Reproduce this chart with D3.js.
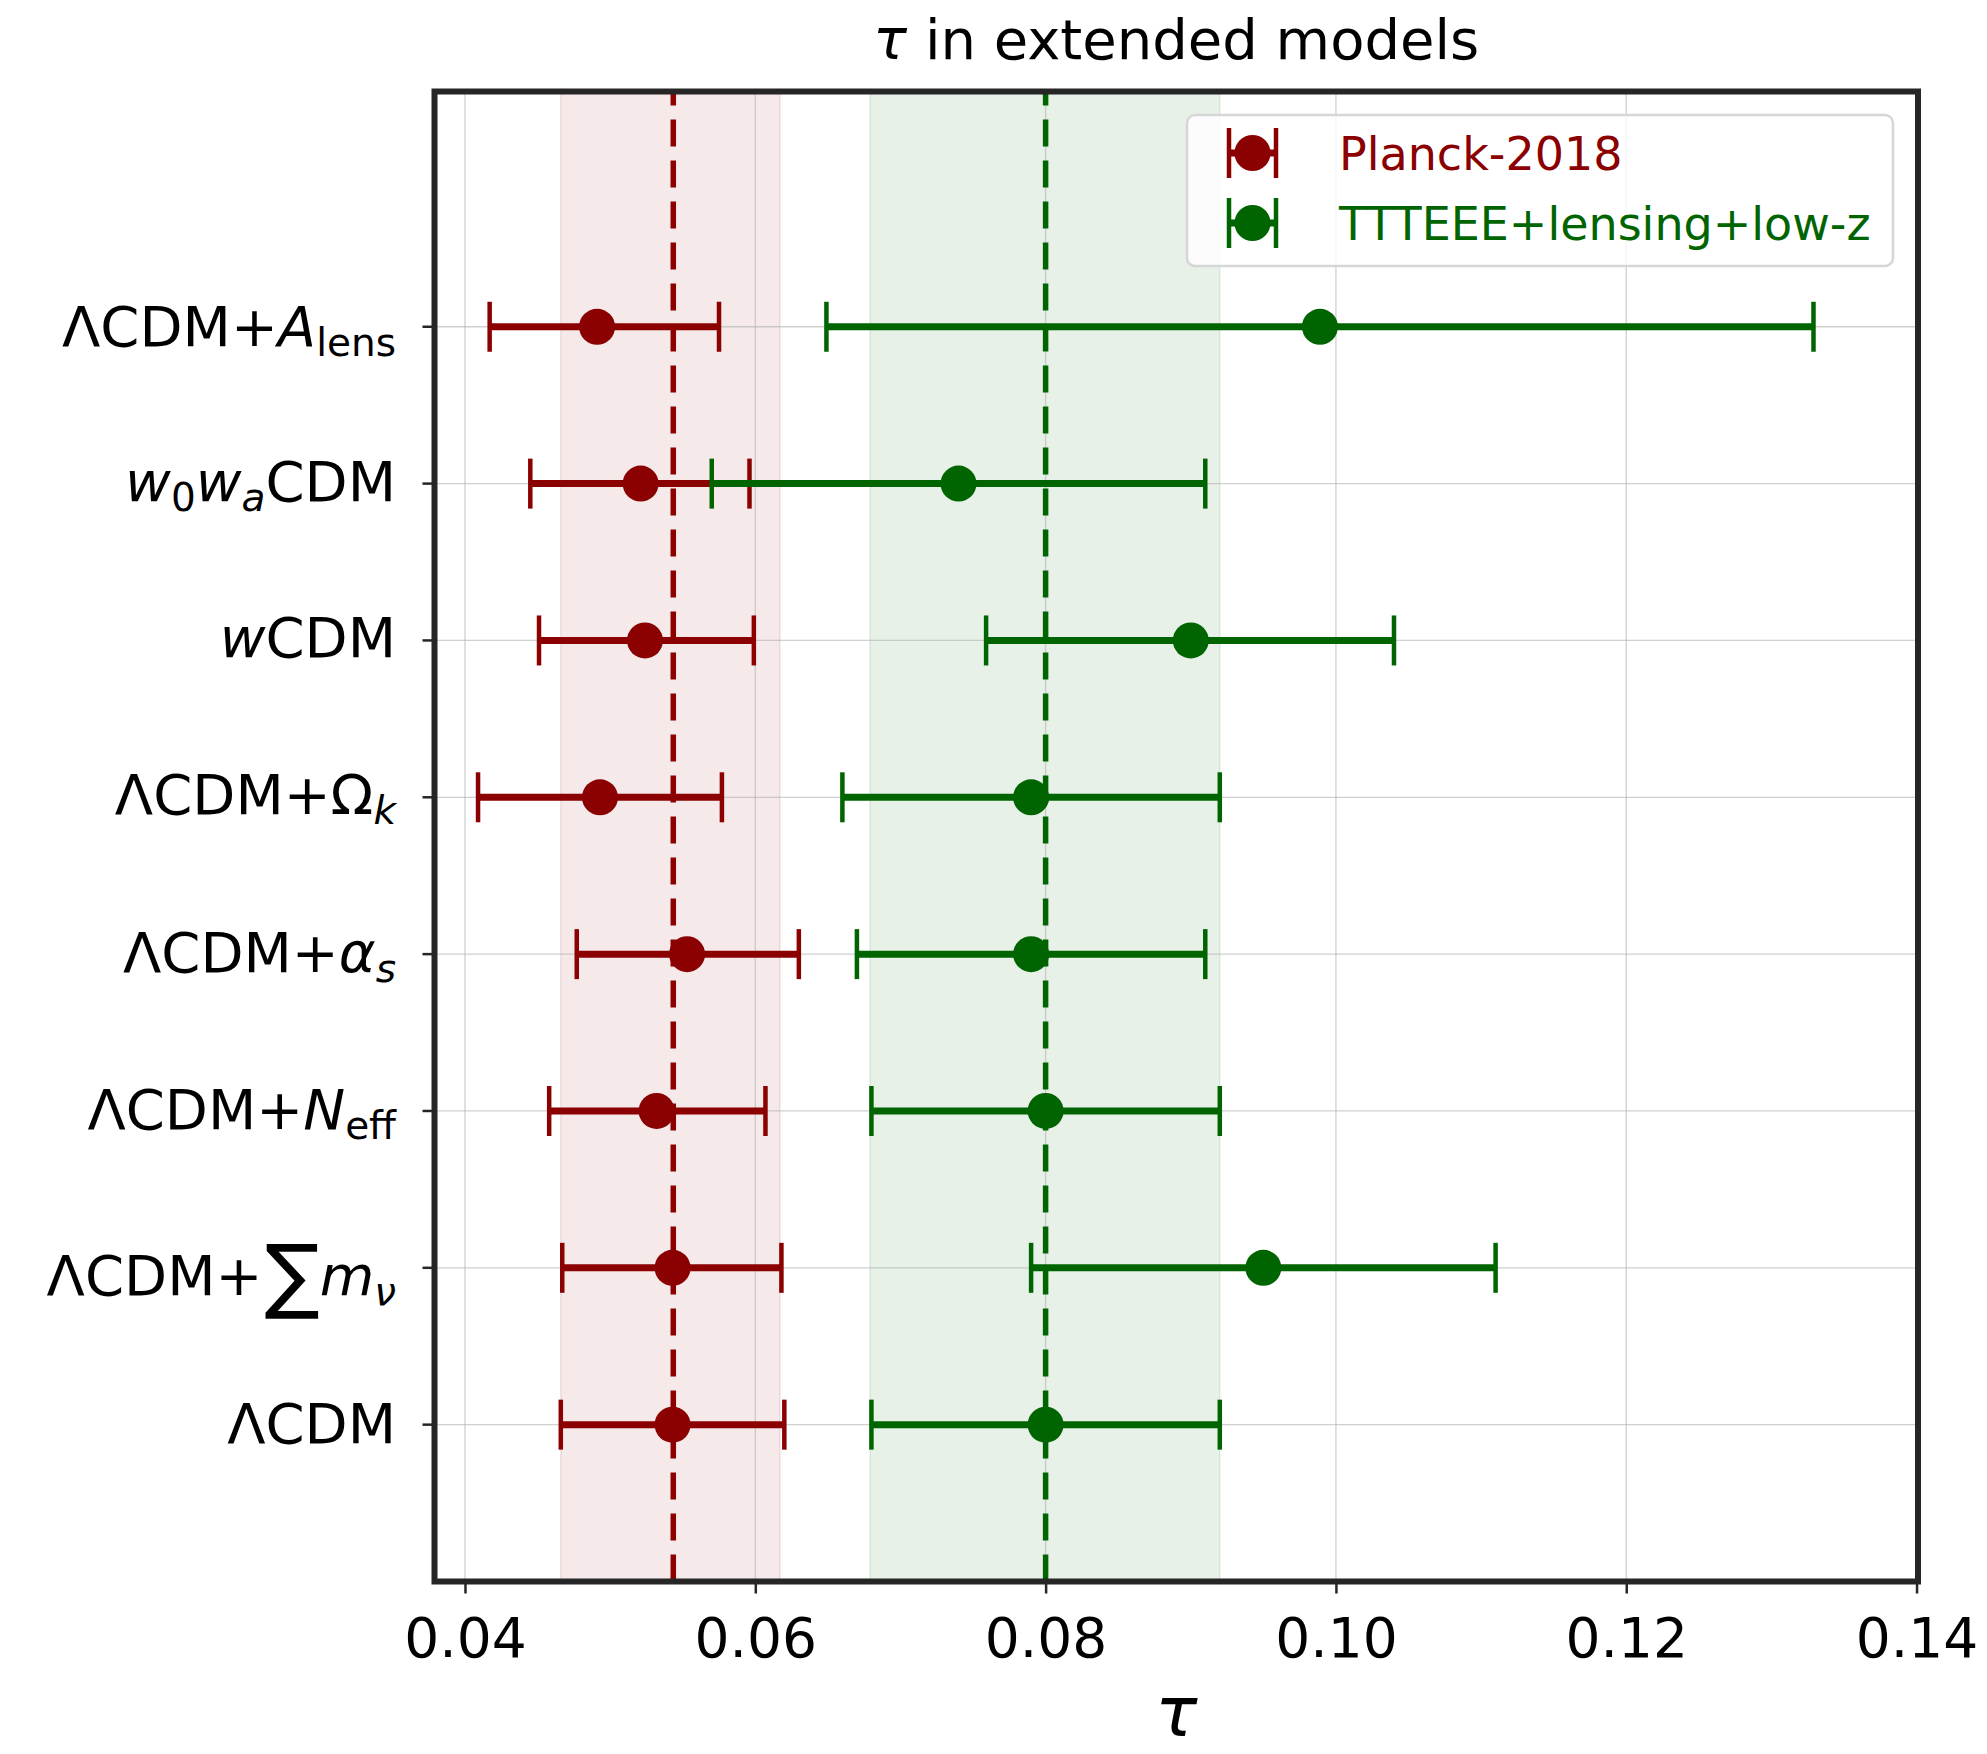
<!DOCTYPE html>
<html>
<head>
<meta charset="utf-8">
<script src="https://cdn.jsdelivr.net/npm/d3@7"></script>
<style>
  body { margin: 0; background: #ffffff; }
  text { font-family: "DejaVu Sans", sans-serif; }
</style>
</head>
<body>
<div id="chart"></div>
<script>
// data, rows listed from top to bottom
var models = ["LCDM+Alens", "w0waCDM", "wCDM", "LCDM+Omk", "LCDM+alphas", "LCDM+Neff", "LCDM+mnu", "LCDM"];
// label pieces: [text, style] style: r roman, i italic, sr roman sub, si italic sub, big sigma
var modelLabels = [
    [["ΛCDM+", "r"], ["A", "i"], ["lens", "sr"]],
    [["w", "i"], ["0", "sr"], ["w", "i"], ["a", "si"], ["CDM", "r"]],
    [["w", "i"], ["CDM", "r"]],
    [["ΛCDM+Ω", "r"], ["k", "si"]],
    [["ΛCDM+", "r"], ["α", "i"], ["s", "si"]],
    [["ΛCDM+", "r"], ["N", "i"], ["eff", "sr"]],
    [["ΛCDM+", "r"], ["∑", "big"], ["m", "i"], ["ν", "si"]],
    [["ΛCDM", "r"]]
];

var planckMean = [0.0491, 0.0521, 0.0524, 0.0493, 0.0553, 0.0532, 0.0543, 0.0543];
var planckLow  = [0.0417, 0.0445, 0.0451, 0.0409, 0.0477, 0.0458, 0.0467, 0.0466];
var planckHigh = [0.0575, 0.0596, 0.0599, 0.0577, 0.0630, 0.0607, 0.0618, 0.0620];

var tttMean = [0.0989, 0.0740, 0.0900, 0.0790, 0.0790, 0.0800, 0.0950, 0.0800];
var tttLow  = [0.0649, 0.0570, 0.0759, 0.0660, 0.0670, 0.0680, 0.0790, 0.0680];
var tttHigh = [0.1329, 0.0910, 0.1040, 0.0920, 0.0910, 0.0920, 0.1110, 0.0920];

var planckBand = [0.0466, 0.0617];
var planckRef = 0.05435;
var tttBand = [0.0679, 0.0920];
var tttRef = 0.0800;

var xTicks = [0.04, 0.06, 0.08, 0.10, 0.12, 0.14];
var seriesNames = ["Planck-2018", "TTTEEE+lensing+low-z"];

var red = "#8b0000";
var green = "#006400";

var svgWidth = 1987;
var svgHeight = 1754;
var box = { left: 434.5, right: 1918, top: 91.5, bottom: 1581.5 };

var svg = d3.select("#chart")
    .append("svg")
    .attr("width", svgWidth)
    .attr("height", svgHeight);

var x = d3.scaleLinear()
    .domain([0.0379, 0.1401])
    .range([box.left, box.right]);

// row 0 at the bottom (LCDM), 7 at the top
var y = d3.scaleLinear()
    .domain([-1, 8.5])
    .range([box.bottom, box.top]);

function rowY(i) {
    return y(models.length - 1 - i);
}

// shaded bands
svg.append("rect")
    .attr("x", x(planckBand[0]))
    .attr("y", box.top)
    .attr("width", x(planckBand[1]) - x(planckBand[0]))
    .attr("height", box.bottom - box.top)
    .attr("fill", red)
    .attr("fill-opacity", 0.085)
    .attr("stroke", red)
    .attr("stroke-opacity", 0.1)
    .attr("stroke-width", 1.5);

svg.append("rect")
    .attr("x", x(tttBand[0]))
    .attr("y", box.top)
    .attr("width", x(tttBand[1]) - x(tttBand[0]))
    .attr("height", box.bottom - box.top)
    .attr("fill", green)
    .attr("fill-opacity", 0.09)
    .attr("stroke", green)
    .attr("stroke-opacity", 0.1)
    .attr("stroke-width", 1.5);

// grid
svg.append("g")
    .selectAll("line")
    .data(xTicks)
    .enter()
    .append("line")
    .attr("x1", d => x(d))
    .attr("x2", d => x(d))
    .attr("y1", box.top)
    .attr("y2", box.bottom)
    .attr("stroke", "#b0b0b0")
    .attr("stroke-opacity", 0.6)
    .attr("stroke-width", 1.3);

svg.append("g")
    .selectAll("line")
    .data(models)
    .enter()
    .append("line")
    .attr("x1", box.left)
    .attr("x2", box.right)
    .attr("y1", (d, i) => rowY(i))
    .attr("y2", (d, i) => rowY(i))
    .attr("stroke", "#b0b0b0")
    .attr("stroke-opacity", 0.6)
    .attr("stroke-width", 1.3);

// error bars
function drawSeries(mean, low, high, color) {
    var g = svg.append("g");
    var rows = g.selectAll("g")
        .data(models)
        .enter()
        .append("g");

    rows.append("line")
        .attr("x1", (d, i) => x(low[i]))
        .attr("x2", (d, i) => x(high[i]))
        .attr("y1", (d, i) => rowY(i))
        .attr("y2", (d, i) => rowY(i))
        .attr("stroke", color)
        .attr("stroke-width", 7);

    rows.append("line")
        .attr("x1", (d, i) => x(low[i]))
        .attr("x2", (d, i) => x(low[i]))
        .attr("y1", (d, i) => rowY(i) - 25)
        .attr("y2", (d, i) => rowY(i) + 25)
        .attr("stroke", color)
        .attr("stroke-width", 4.5);

    rows.append("line")
        .attr("x1", (d, i) => x(high[i]))
        .attr("x2", (d, i) => x(high[i]))
        .attr("y1", (d, i) => rowY(i) - 25)
        .attr("y2", (d, i) => rowY(i) + 25)
        .attr("stroke", color)
        .attr("stroke-width", 4.5);

    rows.append("circle")
        .attr("cx", (d, i) => x(mean[i]))
        .attr("cy", (d, i) => rowY(i))
        .attr("r", 18)
        .attr("fill", color);
}

drawSeries(planckMean, planckLow, planckHigh, red);
drawSeries(tttMean, tttLow, tttHigh, green);

// reference dashed lines
[[planckRef, red], [tttRef, green]].forEach(function (r) {
    svg.append("line")
        .attr("x1", x(r[0]))
        .attr("x2", x(r[0]))
        .attr("y1", box.bottom)
        .attr("y2", box.top)
        .attr("stroke", r[1])
        .attr("stroke-width", 5.5)
        .attr("stroke-dasharray", "27,14");
});

// legend
var legend = svg.append("g");
legend.append("rect")
    .attr("x", 1187)
    .attr("y", 115)
    .attr("width", 706)
    .attr("height", 151)
    .attr("rx", 8)
    .attr("fill", "#ffffff")
    .attr("fill-opacity", 0.8)
    .attr("stroke", "#d6d6d6")
    .attr("stroke-width", 2.5);

[[seriesNames[0], red, 153], [seriesNames[1], green, 223]].forEach(function (s) {
    var cy = s[2];
    legend.append("line")
        .attr("x1", 1229).attr("x2", 1276)
        .attr("y1", cy).attr("y2", cy)
        .attr("stroke", s[1]).attr("stroke-width", 7);
    [1229, 1276].forEach(function (cx) {
        legend.append("line")
            .attr("x1", cx).attr("x2", cx)
            .attr("y1", cy - 25).attr("y2", cy + 25)
            .attr("stroke", s[1]).attr("stroke-width", 4.5);
    });
    legend.append("circle")
        .attr("cx", 1252.5).attr("cy", cy)
        .attr("r", 18)
        .attr("fill", s[1]);
    legend.append("text")
        .attr("x", 1339)
        .attr("y", cy + 16.5)
        .attr("font-size", 46)
        .attr("fill", s[1])
        .text(s[0]);
});

// frame
svg.append("rect")
    .attr("x", box.left)
    .attr("y", box.top)
    .attr("width", box.right - box.left)
    .attr("height", box.bottom - box.top)
    .attr("fill", "none")
    .attr("stroke", "#262626")
    .attr("stroke-width", 6);

// x axis
var xAxis = d3.axisBottom(x)
    .tickValues(xTicks)
    .tickFormat(d3.format(".2f"))
    .tickSize(12)
    .tickPadding(24);

var xg = svg.append("g")
    .attr("transform", `translate(0, ${box.bottom})`)
    .call(xAxis);
xg.select(".domain").remove();
xg.selectAll(".tick line").attr("stroke", "#262626").attr("stroke-width", 2.5);
xg.selectAll(".tick text")
    .attr("font-size", 55)
    .attr("font-family", "DejaVu Sans")
    .attr("fill", "#000");

// y ticks and labels
var yg = svg.append("g");
yg.selectAll("line")
    .data(models)
    .enter()
    .append("line")
    .attr("x1", box.left - 12)
    .attr("x2", box.left)
    .attr("y1", (d, i) => rowY(i))
    .attr("y2", (d, i) => rowY(i))
    .attr("stroke", "#262626")
    .attr("stroke-width", 2.5);

var labelShift = [19, 17, 17, 17, 18, 18, 27, 18];

modelLabels.forEach(function (parts, i) {
    var t = yg.append("text")
        .attr("x", 396)
        .attr("y", rowY(i) + labelShift[i])
        .attr("text-anchor", "end")
        .attr("font-size", 56)
        .attr("fill", "#000");
    var shift = 0;
    parts.forEach(function (p) {
        var span = t.append("tspan").text(p[0]);
        var target = 0;
        if (p[1] === "i") span.attr("font-style", "italic");
        if (p[1] === "sr" || p[1] === "si") {
            span.attr("font-size", 39);
            target = 10;
            if (p[1] === "si") span.attr("font-style", "italic");
        }
        if (p[1] === "big") {
            span.attr("font-size", 82).attr("dx", 2);
            target = 8;
        }
        if (target !== shift) span.attr("dy", target - shift);
        shift = target;
    });
});

// title and axis label
svg.append("text")
    .attr("x", (box.left + box.right) / 2)
    .attr("y", 59)
    .attr("text-anchor", "middle")
    .attr("font-size", 56)
    .attr("fill", "#000")
    .html('<tspan font-style="italic">τ</tspan> in extended models');

svg.append("text")
    .attr("x", (box.left + box.right) / 2)
    .attr("y", 1736)
    .attr("text-anchor", "middle")
    .attr("font-size", 70)
    .attr("font-style", "italic")
    .attr("fill", "#000")
    .text("τ");
</script>
</body>
</html>
